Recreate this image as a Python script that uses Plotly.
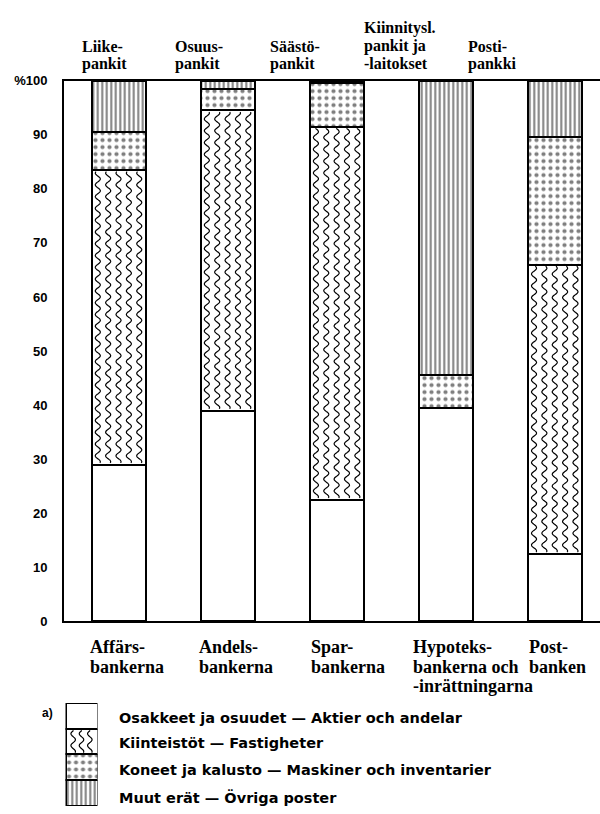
import numpy as np
import plotly.graph_objects as go

# ---------------- data ----------------
labels_fi = ["Liike-<br>pankit", "Osuus-<br>pankit", "Säästö-<br>pankit",
             "Kiinnitysl.<br>pankit ja<br>-laitokset", "Posti-<br>pankki"]
labels_sv = ["Affärs-<br>bankerna", "Andels-<br>bankerna", "Spar-<br>bankerna",
             "Hypoteks-<br>bankerna och<br>-inrättningarna", "Post-<br>banken"]
osakkeet = [29.0, 39.0, 22.5, 39.5, 12.5]      # Osakkeet ja osuudet
kiinteistot = [54.5, 55.5, 69.0, 0.0, 53.5]    # Kiinteistöt
koneet = [7.0, 4.0, 8.0, 6.0, 23.5]            # Koneet ja kalusto
muut = [9.5, 1.5, 0.5, 54.5, 10.5]             # Muut erät
series_names = ["Osakkeet ja osuudet — Aktier och andelar",
                "Kiinteistöt — Fastigheter",
                "Koneet ja kalusto — Maskiner och inventarier",
                "Muut erät — Övriga poster"]
y_tickvals = [0, 10, 20, 30, 40, 50, 60, 70, 80, 90, 100]
y_ticktext = ["0", "10", "20", "30", "40", "50", "60", "70", "80", "90", "%100"]

W, H = 600, 814
xpos = list(range(len(labels_fi)))

BLACK = "#000000"
SERIF = "Liberation Serif"
SANS = "Liberation Sans"

dots = dict(shape=".", size=7, solidity=0.28, fgcolor=BLACK, bgcolor="white",
            fillmode="overlay")
vlines = dict(shape="|", size=4.5, solidity=0.45, fgcolor=BLACK, bgcolor="white",
              fillmode="overlay")
line = dict(color=BLACK, width=2)

fig = go.Figure()
fig.add_trace(go.Bar(x=xpos, y=osakkeet, width=0.495, name=series_names[0],
                     marker=dict(color="white", line=line)))
fig.add_trace(go.Bar(x=xpos, y=kiinteistot, width=0.495, name=series_names[1],
                     marker=dict(color="white", line=line)))
fig.add_trace(go.Bar(x=xpos, y=koneet, width=0.495, name=series_names[2],
                     marker=dict(color="white", line=line, pattern=dots)))
fig.add_trace(go.Bar(x=xpos, y=muut, width=0.495, name=series_names[3],
                     marker=dict(color="white", line=line, pattern=vlines)))

plot_l, plot_t, plot_b = 64, 75, 626
px_per_unit = (plot_b - plot_t) / 100


def wavy(centers, bases, heights, offsets, amp, period):
    xs, ys = [], []
    for c, b, h in zip(centers, bases, heights):
        if h <= 0:
            continue
        for off in offsets:
            n = max(int(h / period * 20), 12)
            yy = np.linspace(b + 0.15 * period, b + h - 0.15 * period, n)
            xx = c + off + amp * np.sin(2 * np.pi * (yy - b) / period)
            xs += list(xx) + [None]
            ys += list(yy) + [None]
    return xs, ys


# wavy hatch of the "Kiinteistöt" segments (derived from the data)
wx, wy = wavy(xpos, osakkeet, kiinteistot, [-0.19, -0.095, 0.0, 0.095, 0.19],
              0.023, 12 / px_per_unit)
fig.add_trace(go.Scatter(x=wx, y=wy, mode="lines", hoverinfo="skip",
                         line=dict(color=BLACK, width=1.2, shape="spline"),
                         showlegend=False))

# ---------- legend box (mini stacked bar) ----------
leg_x = [0]
fig.add_trace(go.Bar(x=leg_x, y=[1], width=1, xaxis="x2", yaxis="y2",
                     marker=dict(color="white", line=line, pattern=vlines)))
fig.add_trace(go.Bar(x=leg_x, y=[1], width=1, xaxis="x2", yaxis="y2",
                     marker=dict(color="white", line=line, pattern=dots)))
fig.add_trace(go.Bar(x=leg_x, y=[1], width=1, xaxis="x2", yaxis="y2",
                     marker=dict(color="white", line=line)))
fig.add_trace(go.Bar(x=leg_x, y=[1], width=1, xaxis="x2", yaxis="y2",
                     marker=dict(color="white", line=line)))
lx, ly = wavy(leg_x, [2], [1], [-0.26, 0.0, 0.26], 0.07, 0.46)
fig.add_trace(go.Scatter(x=lx, y=ly, mode="lines", xaxis="x2", yaxis="y2",
                         hoverinfo="skip",
                         line=dict(color=BLACK, width=1.2, shape="spline")))

# ---------------- layout ----------------
fig.update_layout(
    width=W, height=H, autosize=False, margin=dict(l=0, r=0, t=0, b=0),
    paper_bgcolor="white", plot_bgcolor="white",
    barmode="stack", showlegend=False,
    xaxis=dict(domain=[plot_l / W, 1], range=[-0.5, 4.415],
               showline=True, mirror=True, linecolor=BLACK, linewidth=2,
               showticklabels=False, ticks="", showgrid=False, zeroline=False),
    yaxis=dict(domain=[(H - plot_b) / H, (H - plot_t) / H], range=[0, 100],
               showline=True, linecolor=BLACK, linewidth=2,
               tickvals=y_tickvals, ticktext=y_ticktext, ticks="",
               ticklabelstandoff=12,
               tickfont=dict(family=SANS, size=13, color=BLACK, weight="bold"),
               showgrid=False, zeroline=False),
    xaxis2=dict(domain=[65.5 / W, 97.5 / W], range=[-0.5, 0.5], visible=False,
                anchor="y2"),
    yaxis2=dict(domain=[0, (H - 709) / H], range=[0, 4], visible=False,
                anchor="x2"),
)

ann = []


def add_lines(label, px, rows, font):
    for txt, py in zip(label.split("<br>"), rows):
        ann.append(dict(text=txt, x=px / W, y=1 - py / H, xref="paper",
                        yref="paper", xanchor="left", yanchor="middle",
                        showarrow=False, font=font))


top_font = dict(family=SERIF, size=16, color=BLACK, weight="bold")
top_x = [80, 173, 268, 362, 466]
for lab, px in zip(labels_fi, top_x):
    n = len(lab.split("<br>"))
    rows = [21, 40, 58][3 - n:]
    add_lines(lab, px, rows, top_font)

bot_font = dict(family=SERIF, size=18, color=BLACK, weight="bold")
bot_x = [88, 197, 309, 411, 527]
for lab, px in zip(labels_sv, bot_x):
    add_lines(lab, px, [652, 672, 692], bot_font)

leg_font = dict(family="DejaVu Sans", size=14.5, color=BLACK, weight="bold")
leg_y = [724, 750, 777, 805]
for name, py in zip(series_names, leg_y):
    ann.append(dict(text=name, x=117 / W, y=1 - py / H, xref="paper", yref="paper",
                    xanchor="left", yanchor="middle", showarrow=False,
                    font=leg_font))
ann.append(dict(text="a)", x=47 / W, y=1 - 719 / H, xref="paper", yref="paper",
                xanchor="center", yanchor="middle", showarrow=False,
                font=dict(family=SANS, size=12, color=BLACK, weight="bold")))
fig.update_layout(annotations=ann)

fig.write_html("out.html",
               config={"displayModeBar": False, "responsive": False},
               post_script="document.body.style.margin='0';")
